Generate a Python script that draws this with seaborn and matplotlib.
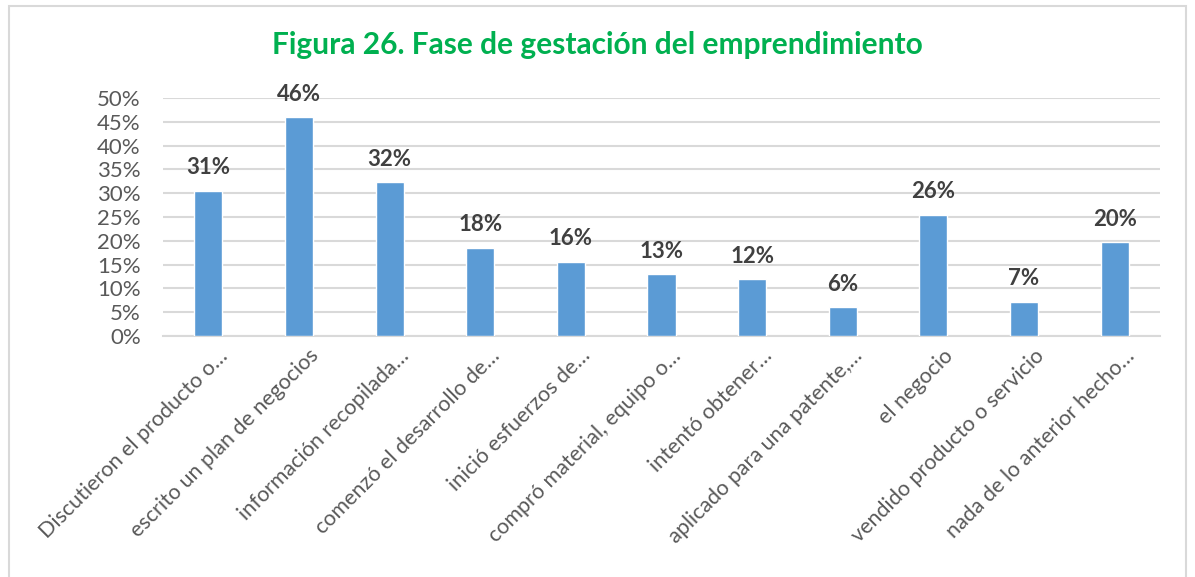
import matplotlib
matplotlib.use('Agg')
import matplotlib.pyplot as plt
import matplotlib.transforms as mtransforms
import numpy as np
import pandas as pd
import seaborn as sns
from matplotlib.patches import Rectangle
from matplotlib.ticker import PercentFormatter

# datos
categorias = [
    'Discutieron el producto o…',
    'escrito un plan de negocios',
    'información recopilada…',
    'comenzó el desarrollo de…',
    'inició esfuerzos de…',
    'compró material, equipo o…',
    'intentó obtener…',
    'aplicado para una patente,…',
    'el negocio',
    'vendido producto o servicio',
    'nada de lo anterior hecho…',
]
valores = [0.305, 0.46, 0.323, 0.185, 0.156, 0.13, 0.119, 0.06, 0.255, 0.072, 0.197]
etiquetas = ['31%', '46%', '32%', '18%', '16%', '13%', '12%', '6%', '26%', '7%', '20%']

df = pd.DataFrame({'cat': categorias, 'val': valores})

sns.set_theme(style='white')
plt.rcParams['font.family'] = ['Lato', 'DejaVu Sans']

fig = plt.figure(figsize=(11.95, 5.77), dpi=100)
ax = fig.add_axes([0.1364, 0.4177, 0.8343, 0.4125])

sns.barplot(data=df, x='cat', y='val', color='#5B9BD5', saturation=1,
            width=0.31, ax=ax, zorder=3)

ax.set_ylim(0, 0.5)
ax.set_xlim(-0.5, len(categorias) - 0.5)
ax.set_yticks(np.arange(0, 0.51, 0.05))
ax.yaxis.set_major_formatter(PercentFormatter(1.0, decimals=0))
ax.grid(axis='y', color='#D9D9D9', linewidth=1.5, zorder=0)
ax.set_axisbelow(True)
for s in ['top', 'right', 'left']:
    ax.spines[s].set_visible(False)
ax.spines['bottom'].set_color('#D9D9D9')
ax.spines['bottom'].set_linewidth(1.5)
ax.set_xlabel('')
ax.set_ylabel('')
ax.tick_params(axis='y', labelsize=16, labelcolor='#595959', length=0, pad=16)
ax.tick_params(axis='x', labelsize=15.5, labelcolor='#595959', length=0, pad=7)
# desplazar un poco las etiquetas rotadas hacia la derecha, como en Excel
offset = mtransforms.ScaledTranslation(7 / 72, 0, fig.dpi_scale_trans)
for lbl in ax.get_xticklabels():
    lbl.set_rotation(45)
    lbl.set_ha('right')
    lbl.set_rotation_mode('anchor')
    lbl.set_transform(lbl.get_transform() + offset)

for i, (v, t) in enumerate(zip(valores, etiquetas)):
    ax.annotate(t, (i, v), xytext=(0, 9), textcoords='offset points',
                ha='center', va='bottom', fontsize=16, fontweight='bold',
                color='#404040')

fig.text(0.5, 0.922, 'Figura 26. Fase de gestación del emprendimiento',
         ha='center', va='center', fontsize=21.5, fontweight='bold', color='#00B050')

fig.patches.append(Rectangle((0.0075, -0.01), 0.985, 1.0, transform=fig.transFigure,
                             fill=False, edgecolor='#D9D9D9', linewidth=1.5))

fig.savefig('out.png', dpi=100, facecolor='white')
